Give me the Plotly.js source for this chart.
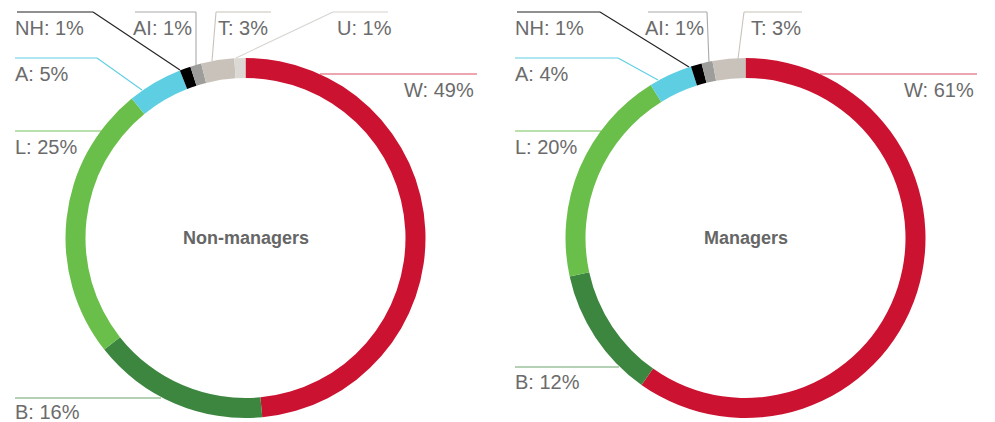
<!DOCTYPE html>
<html>
<head>
<meta charset="utf-8">
<script src="https://cdn.plot.ly/plotly-3.0.1.min.js"></script>
<style>html,body{margin:0;padding:0;background:#fff;}#chart{width:995px;height:422px;}</style>
</head>
<body>
<div id="chart"></div>
<script>
// ---- data ----
const categories = ['W', 'B', 'L', 'A', 'NH', 'AI', 'T', 'U'];
const nonManagers = [49, 16, 25, 5, 1, 1, 3, 1];
const managers = [61, 12, 20, 4, 1, 1, 3];
const chartTitles = ['Non-managers', 'Managers'];

// ---- styles ----
const sliceColors = ['#cc1231', '#3d8640', '#6abf4b', '#5ecfe3', '#000000', '#9d9d9b', '#c9c2ba', '#dcd8d3'];
const lineColors = {W: '#dc4f61', B: '#6ba46d', L: '#77c35a', A: '#5ecfe3', NH: '#222222', AI: '#aaaaaa', T: '#c9c2ba', U: '#d8d4cf'};
const W = 995, H = 422;
const R = 180, CY = 238;
const centersX = [245.5, 745.5];
const font = 'Liberation Sans, Arial, Helvetica, sans-serif';

const px = x => x / W;
const py = y => 1 - y / H;

// label layout per chart: anchor text position + leader polyline (pixels)
const layouts = [
  {
    W:  {tx: 476, ty: 90, xa: 'right', pts: [[320, 74], [477, 74]]},
    B:  {tx: 13, ty: 412, xa: 'left', pts: [[15, 398], [161, 398]]},
    L:  {tx: 13, ty: 147, xa: 'left', pts: [[15, 131], [101, 131]]},
    A:  {tx: 13, ty: 74, xa: 'left', pts: [[15, 58], [97, 58], [142, 90]]},
    NH: {tx: 13, ty: 28, xa: 'left', pts: [[17, 12], [93, 12], [180, 70]]},
    AI: {tx: 194, ty: 28, xa: 'right', pts: [[135, 12], [196, 12], [196, 65]]},
    T:  {tx: 216, ty: 28, xa: 'left', pts: [[271, 12], [216, 12], [212, 61]]},
    U:  {tx: 335, ty: 28, xa: 'left', pts: [[388, 12], [333, 12], [236, 58]]}
  },
  {
    W:  {tx: 976, ty: 90, xa: 'right', pts: [[820, 74], [977, 74]]},
    B:  {tx: 513, ty: 382, xa: 'left', pts: [[515, 367], [619, 367]]},
    L:  {tx: 513, ty: 147, xa: 'left', pts: [[515, 131], [601, 131]]},
    A:  {tx: 513, ty: 74, xa: 'left', pts: [[515, 58], [618, 58], [658, 80]]},
    NH: {tx: 513, ty: 28, xa: 'left', pts: [[517, 12], [600, 12], [689, 67]]},
    AI: {tx: 706, ty: 28, xa: 'right', pts: [[648, 12], [707, 12], [709, 63]]},
    T:  {tx: 749, ty: 28, xa: 'left', pts: [[802, 12], [744, 12], [738, 59]]}
  }
];

const series = [nonManagers, managers];
const traces = [];
const shapes = [];
const annotations = [];

series.forEach((vals, i) => {
  const cx = centersX[i];
  const labs = categories.slice(0, vals.length);
  traces.push({
    type: 'pie',
    labels: labs,
    values: vals,
    sort: false,
    direction: 'clockwise',
    rotation: 0,
    hole: 160 / 180,
    textinfo: 'none',
    hoverinfo: 'label+value',
    showlegend: false,
    marker: {colors: sliceColors.slice(0, vals.length), line: {width: 0}},
    domain: {x: [px(cx - R), px(cx + R)], y: [py(CY + R), py(CY - R)]}
  });
  annotations.push({
    xref: 'paper', yref: 'paper', x: px(cx), y: py(CY),
    text: '<b>' + chartTitles[i] + '</b>', showarrow: false,
    font: {family: font, size: 18, color: '#666666'},
    xanchor: 'center', yanchor: 'middle'
  });
  labs.forEach((c, k) => {
    const L = layouts[i][c];
    if (!L) return;
    for (let s = 0; s < L.pts.length - 1; s++) {
      const a = L.pts[s], b = L.pts[s + 1];
      shapes.push({
        type: 'line', xref: 'paper', yref: 'paper', layer: 'below',
        x0: px(a[0]), y0: py(a[1]), x1: px(b[0]), y1: py(b[1]),
        line: {color: lineColors[c], width: 1.1}
      });
    }
    annotations.push({
      xref: 'paper', yref: 'paper', x: px(L.tx), y: py(L.ty),
      text: c + ': ' + vals[k] + '%', showarrow: false,
      font: {family: font, size: 20, color: '#6b6b6b'},
      xanchor: L.xa, yanchor: 'middle'
    });
  });
});

Plotly.newPlot('chart', traces, {
  width: W, height: H, autosize: false,
  margin: {l: 0, r: 0, t: 0, b: 0},
  paper_bgcolor: '#ffffff', plot_bgcolor: '#ffffff',
  shapes: shapes, annotations: annotations
}, {displayModeBar: false, staticPlot: true});
</script>
</body>
</html>
